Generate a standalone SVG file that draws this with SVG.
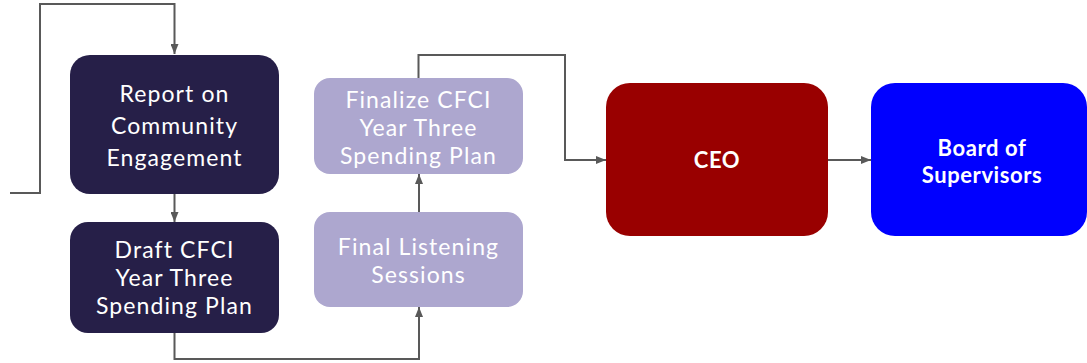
<svg xmlns="http://www.w3.org/2000/svg" width="1087" height="363" viewBox="0 0 1087 363">
<style>
.t{font-family:"Lato","Liberation Sans",sans-serif;font-size:23px;font-weight:400;fill:#ffffff;text-anchor:middle;letter-spacing:1.1px}
.b{font-family:"Lato","Liberation Sans",sans-serif;font-size:22px;font-weight:bold;fill:#ffffff;text-anchor:middle;letter-spacing:0.6px}
.c{fill:none;stroke:#595959;stroke-width:2}
.dark{fill:#261f48}
.light{fill:#ada7cf}
</style>
<defs>
<marker id="ah" markerWidth="10" markerHeight="8" refX="10" refY="4" orient="auto" markerUnits="userSpaceOnUse">
<path d="M0,0 L10,4 L0,8 Z" fill="#595959"/>
</marker>
</defs>
<rect width="1087" height="363" fill="#ffffff"/>
<g id="connectors">
<path class="c" d="M10,193 H40 V4 H174.5 V54" marker-end="url(#ah)"/>
<path class="c" d="M174.5,194 V222" marker-end="url(#ah)"/>
<path class="c" d="M174.5,333 V359 H419 V307" marker-end="url(#ah)"/>
<path class="c" d="M419,212 V174" marker-end="url(#ah)"/>
<path class="c" d="M418.5,78 V55 H565 V160 H606" marker-end="url(#ah)"/>
<path class="c" d="M828,160 H871" marker-end="url(#ah)"/>
</g>
<g id="report">
<rect class="dark" x="70" y="55" width="209" height="139" rx="20"/>
<text class="t" x="174.5" y="102">Report on</text>
<text class="t" x="174.5" y="134">Community</text>
<text class="t" x="174.5" y="166">Engagement</text>
</g>
<g id="draft">
<rect class="dark" x="70" y="222" width="209" height="111" rx="18"/>
<text class="t" x="174.5" y="258">Draft CFCI</text>
<text class="t" x="174.5" y="286">Year Three</text>
<text class="t" x="174.5" y="314">Spending Plan</text>
</g>
<g id="listening">
<rect class="light" x="314" y="212" width="209" height="95" rx="16"/>
<text class="t" x="418.5" y="255">Final Listening</text>
<text class="t" x="418.5" y="283">Sessions</text>
</g>
<g id="finalize">
<rect class="light" x="314" y="78" width="209" height="96" rx="16"/>
<text class="t" x="418.5" y="108">Finalize CFCI</text>
<text class="t" x="418.5" y="136">Year Three</text>
<text class="t" x="418.5" y="164">Spending Plan</text>
</g>
<g id="ceo">
<rect x="606" y="83" width="222" height="153" rx="24" fill="#990000"/>
<text class="b" x="717" y="168">CEO</text>
</g>
<g id="board">
<rect x="871" y="83" width="216" height="153" rx="24" fill="#0000ff"/>
<text class="b" x="982" y="156">Board of</text>
<text class="b" x="982" y="183">Supervisors</text>
</g>
</svg>
